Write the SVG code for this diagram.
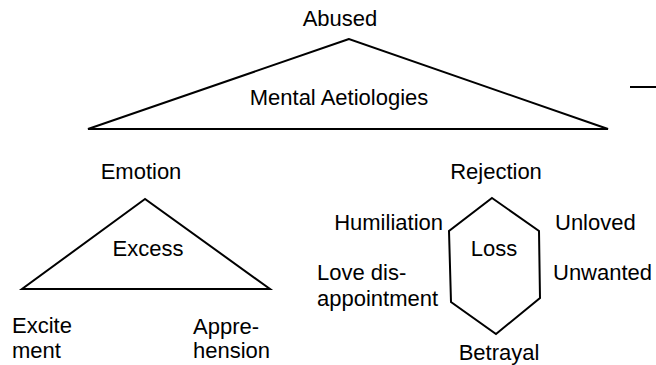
<svg xmlns="http://www.w3.org/2000/svg" width="656" height="365" viewBox="0 0 656 365">
<style>
text{font-family:"Liberation Sans",Arial,sans-serif;font-size:22px;fill:#000}
.c{text-anchor:middle}
.s{fill:none;stroke:#000;stroke-width:2;stroke-linejoin:miter}
</style>
<rect width="656" height="365" fill="#fff"/>
<g id="abused">
<text class="c" x="340" y="26">Abused</text>
<polygon class="s" points="349,39 88,129 608,129"/>
<text class="c" x="339" y="105">Mental Aetiologies</text>
</g>
<g id="connectors">
<line class="s" x1="630" y1="87" x2="656" y2="87"/>
</g>
<g id="emotion">
<text class="c" x="141" y="179">Emotion</text>
<polygon class="s" points="145,199 22,289 270,289"/>
<text class="c" x="148" y="256">Excess</text>
<text x="12" y="333">Excite</text>
<text x="12" y="358">ment</text>
<text x="193" y="334">Appre-</text>
<text x="193" y="358">hension</text>
</g>
<g id="rejection">
<text class="c" x="496" y="179">Rejection</text>
<polygon class="s" points="492,198 539,231 540,298 496,334 451,302 449,231"/>
<text class="c" x="494" y="256">Loss</text>
<text text-anchor="end" x="443" y="230">Humiliation</text>
<text x="555" y="230">Unloved</text>
<text x="317" y="280">Love dis-</text>
<text x="317" y="306">appointment</text>
<text x="553" y="280">Unwanted</text>
<text class="c" x="499" y="360">Betrayal</text>
</g>
</svg>
